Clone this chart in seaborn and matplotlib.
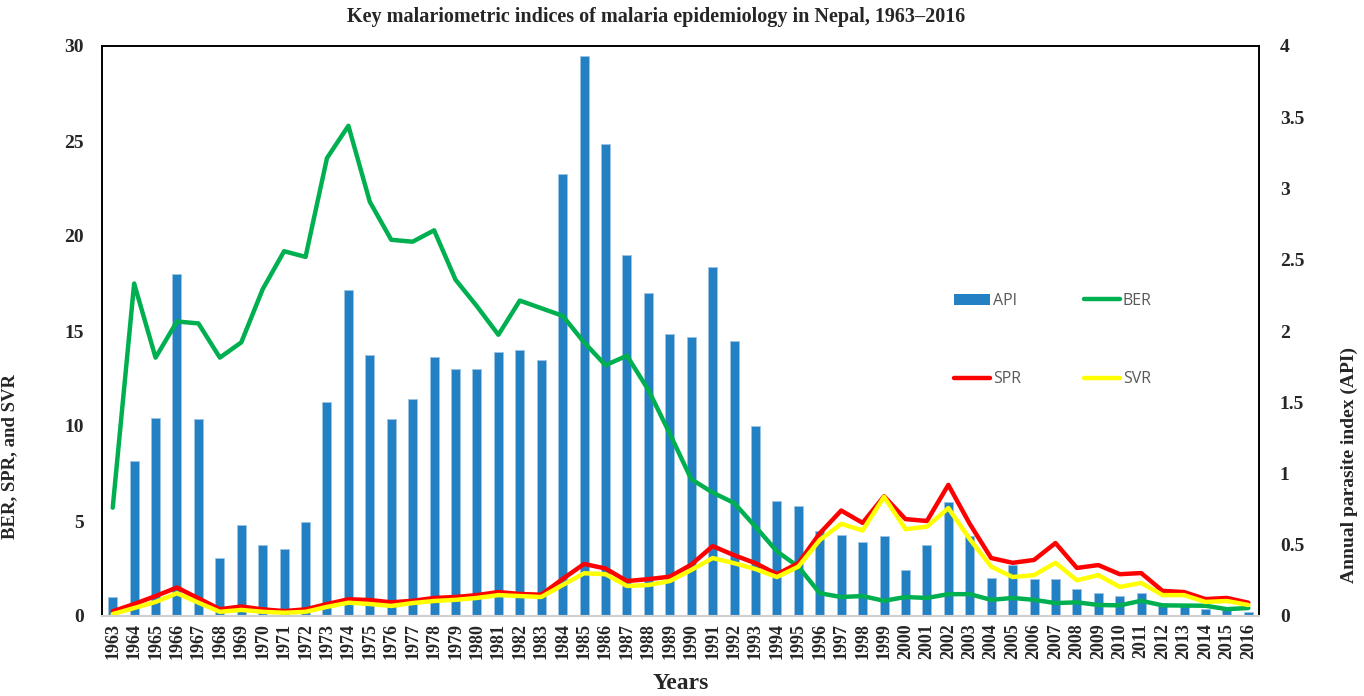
import numpy as np
import pandas as pd
import matplotlib
matplotlib.use("Agg")
import matplotlib.pyplot as plt
import seaborn as sns
from matplotlib.lines import Line2D
from matplotlib.patches import Patch

years = list(range(1963, 2017))
api = [0.13, 1.09, 1.39, 2.40, 1.38, 0.41, 0.64, 0.50, 0.47, 0.66,
       1.50, 2.29, 1.83, 1.38, 1.52, 1.82, 1.73, 1.73, 1.85, 1.87,
       1.80, 3.10, 3.93, 3.31, 2.53, 2.27, 1.98, 1.96, 2.45, 1.93,
       1.33, 0.81, 0.77, 0.60, 0.57, 0.52, 0.56, 0.32, 0.50, 0.80,
       0.56, 0.27, 0.36, 0.26, 0.26, 0.19, 0.16, 0.14, 0.16, 0.09,
       0.08, 0.05, 0.04, 0.03]
ber = [5.7, 17.5, 13.6, 15.5, 15.4, 13.6, 14.4, 17.2, 19.2, 18.9,
       24.1, 25.8, 21.8, 19.8, 19.7, 20.3, 17.7, 16.3, 14.8, 16.6,
       16.2, 15.8, 14.4, 13.2, 13.7, 11.9, 9.6, 7.2, 6.5, 5.95,
       4.7, 3.4, 2.6, 1.2, 1.0, 1.05, 0.8, 1.0, 0.95, 1.15,
       1.15, 0.85, 0.95, 0.85, 0.68, 0.72, 0.58, 0.56, 0.8, 0.56,
       0.55, 0.54, 0.36, 0.42]
spr = [0.25, 0.63, 1.05, 1.5, 0.93, 0.36, 0.5, 0.35, 0.26, 0.35,
       0.63, 0.88, 0.84, 0.72, 0.8, 0.95, 1.0, 1.1, 1.26, 1.16,
       1.12, 1.95, 2.74, 2.5, 1.84, 1.94, 2.07, 2.7, 3.68, 3.2,
       2.78, 2.2, 2.78, 4.35, 5.55, 4.9, 6.3, 5.1, 5.0, 6.9,
       4.85, 3.05, 2.8, 2.95, 3.84, 2.53, 2.68, 2.2, 2.26, 1.32,
       1.26, 0.89, 0.95, 0.7]
svr = [0.1, 0.42, 0.74, 1.2, 0.7, 0.22, 0.32, 0.22, 0.17, 0.22,
       0.48, 0.7, 0.63, 0.53, 0.68, 0.79, 0.85, 0.95, 1.1, 1.05,
       1.0, 1.63, 2.25, 2.2, 1.58, 1.63, 1.84, 2.42, 3.05, 2.78,
       2.47, 2.05, 2.6, 4.0, 4.85, 4.5, 6.27, 4.57, 4.7, 5.68,
       4.05, 2.6, 2.05, 2.15, 2.8, 1.88, 2.15, 1.53, 1.74, 1.1,
       1.1, 0.74, 0.79, 0.58]
left_ticks = [0, 5, 10, 15, 20, 25, 30]
right_ticks = [0, 0.5, 1, 1.5, 2, 2.5, 3, 3.5, 4]
right_labels = ["0", "0.5", "1", "1.5", "2", "2.5", "3", "3.5", "4"]

sns.set_theme(style="white")
plt.rcParams['font.family'] = ['Liberation Serif', 'DejaVu Serif']

C_API = "#2381C3"
C_BER = "#00B050"
C_SPR = "#FF0000"
C_SVR = "#FFFF00"

df = pd.DataFrame({"year": [str(y) for y in years], "pos": np.arange(len(years)),
                   "API": api, "BER": ber, "SPR": spr, "SVR": svr})

fig = plt.figure(figsize=(13.64, 6.96), dpi=100)
ax = fig.add_axes([102/1364, 1-616/696, (1259-102)/1364, (616-46)/696])
ax2 = ax.twinx()

sns.barplot(data=df, x="year", y="API", ax=ax2, color=C_API, width=0.42,
            saturation=1, edgecolor="#9cc3e4", linewidth=0.6)
ax.set_zorder(ax2.get_zorder() + 1)
ax.patch.set_visible(False)

sns.lineplot(data=df, x="pos", y="BER", ax=ax, color=C_BER, linewidth=3.2)
sns.lineplot(data=df, x="pos", y="SPR", ax=ax, color=C_SPR, linewidth=3.2)
sns.lineplot(data=df, x="pos", y="SVR", ax=ax, color=C_SVR, linewidth=3.2)

n = len(years)
ax.set_xlim(-0.5, n - 0.5)
ax2.set_xlim(-0.5, n - 0.5)
ax.set_ylim(0, 30)
ax2.set_ylim(0, 4)
ax.set_yticks(left_ticks)
ax.set_yticklabels([str(t) for t in left_ticks], fontsize=14, fontweight="bold")
ax2.set_yticks(right_ticks)
ax2.set_yticklabels(right_labels, fontsize=14, fontweight="bold")
ax.set_xticks(np.arange(n))
ax.set_xticklabels([str(y) for y in years], rotation=90, fontsize=13, fontweight="bold")
ax2.tick_params(axis="x", bottom=False, labelbottom=False)
ax.tick_params(axis="y", length=0, pad=13)
ax.tick_params(axis="x", length=0, pad=5)
ax2.tick_params(axis="y", length=0, pad=15)
ax2.set_xlabel("")

ax.set_xlabel("Years", fontsize=17, fontweight="bold")
ax.xaxis.set_label_coords(0.5, -0.1)
ax.set_ylabel("BER, SPR, and SVR", fontsize=13.5, fontweight="bold")
ax2.set_ylabel("Annual parasite index (API)", fontsize=14, fontweight="bold")
ax.yaxis.set_label_coords(-0.0726, 0.279)
ax2.yaxis.set_label_coords(1.0705, 0.265)

for a in (ax, ax2):
    for s in ("top", "left", "right"):
        a.spines[s].set_color("black")
        a.spines[s].set_linewidth(1.2)
    a.spines["bottom"].set_color("#d0d0d0")
    a.spines["bottom"].set_linewidth(1.5)

fig.text(0.481, 0.975, "Key malariometric indices of malaria epidemiology in Nepal, 1963\u20132016",
         fontsize=14.5, fontweight="bold", ha="center", va="center")

handles = [Patch(facecolor=C_API, edgecolor="none", label="API"),
           Line2D([0], [0], color=C_SPR, lw=3.2, label="SPR"),
           Line2D([0], [0], color=C_BER, lw=3.2, label="BER"),
           Line2D([0], [0], color=C_SVR, lw=3.2, label="SVR")]
leg = ax.legend(handles=handles, ncol=2, loc="center", bbox_to_anchor=(0.822, 0.484),
                frameon=False, handlelength=2.25, columnspacing=3.9, labelspacing=3.9,
                handletextpad=0.2, prop={"family": "Open Sans", "size": 11.5})
for t in leg.get_texts():
    t.set_color("#595959")

fig.savefig("out.png", dpi=100)
